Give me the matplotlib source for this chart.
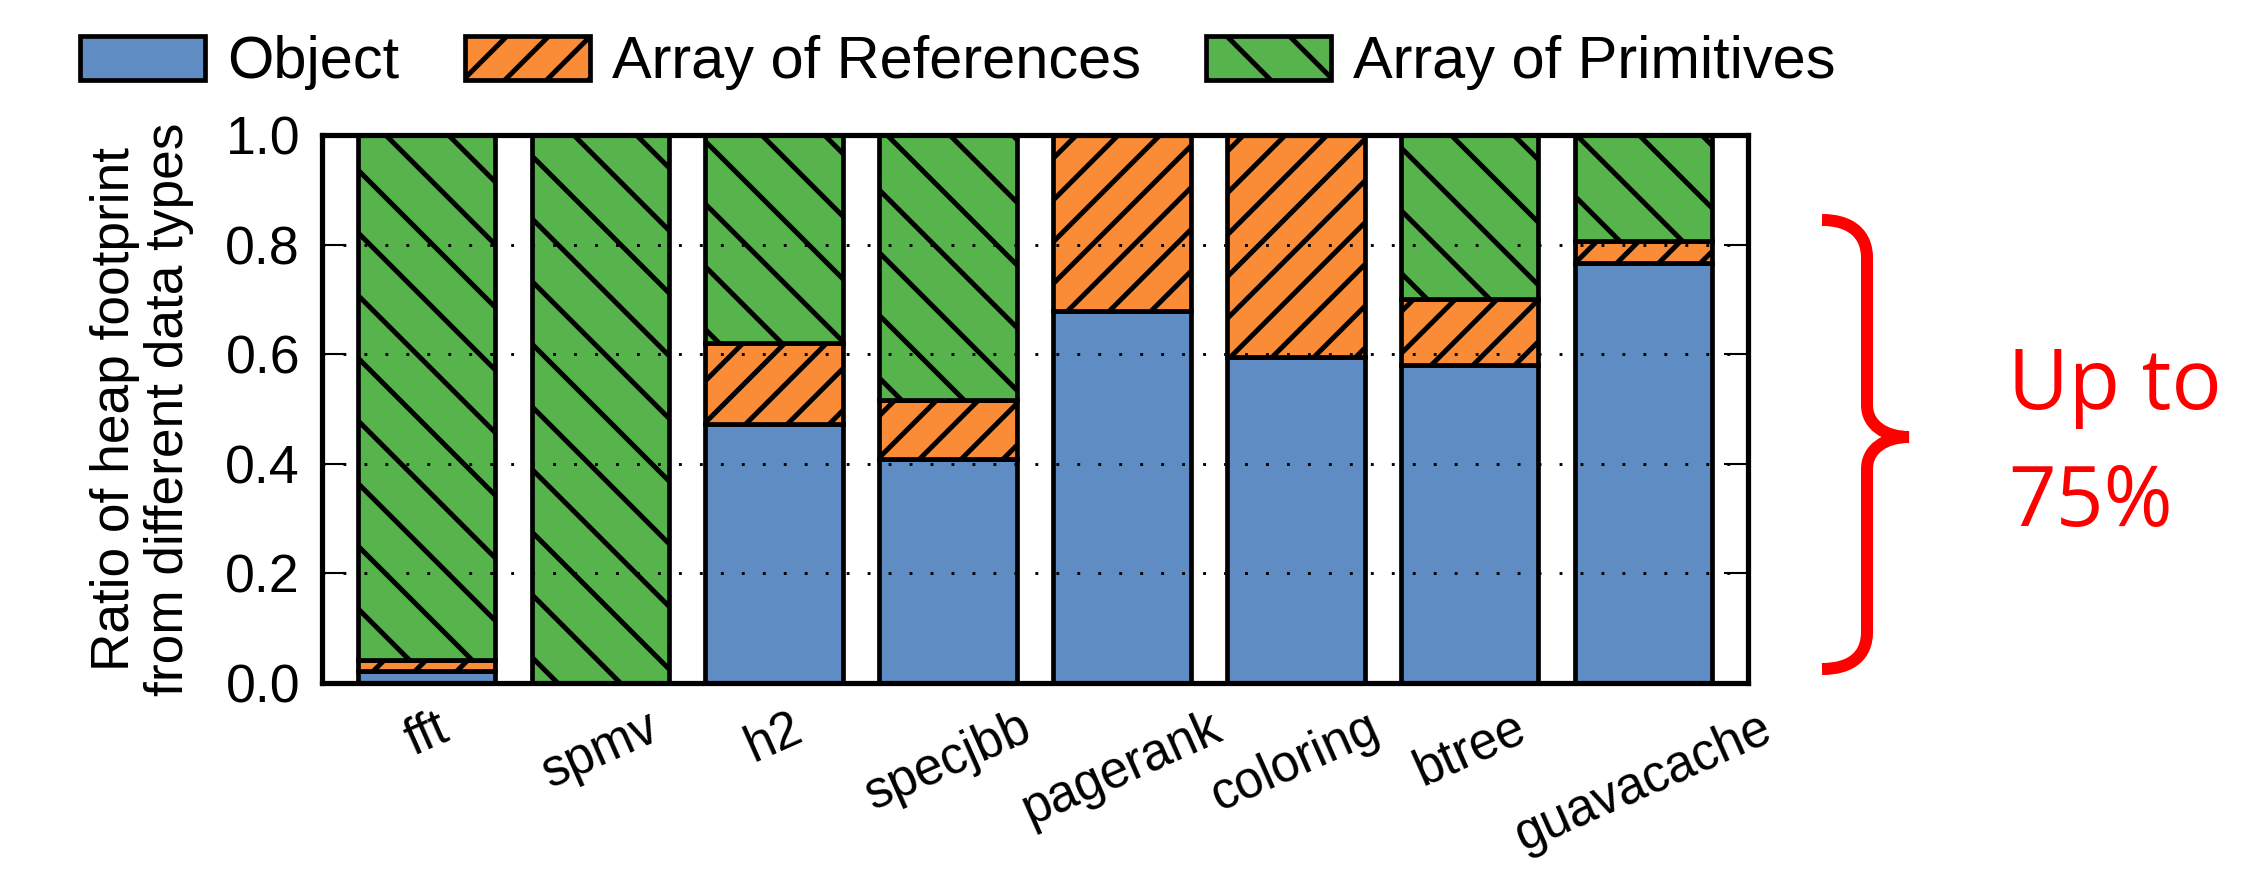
import matplotlib
matplotlib.use("Agg")
import matplotlib.pyplot as plt
from matplotlib.path import Path
from matplotlib.patches import PathPatch
from matplotlib.transforms import Affine2D
import numpy as np

# podaci (ocitani sa slike)
benchmarks = ["fft", "spmv", "h2", "specjbb", "pagerank", "coloring", "btree", "guavacache"]
obj_ratio = [0.022, 0.0, 0.472, 0.409, 0.679, 0.594, 0.581, 0.766]
ref_ratio = [0.020, 0.0, 0.148, 0.107, 0.321, 0.406, 0.120, 0.040]
prim_ratio = [0.958, 1.0, 0.380, 0.484, 0.0, 0.0, 0.299, 0.194]
series_names = ["Object", "Array of References", "Array of Primitives"]

W, H = 2256, 876
DPI = 376

plt.rcParams["font.family"] = ["Liberation Sans", "DejaVu Sans"]
plt.rcParams["hatch.linewidth"] = 0.95
plt.rcParams["hatch.color"] = "black"

fig = plt.figure(figsize=(W / DPI, H / DPI), dpi=DPI)
ax = fig.add_axes([322 / W, 1 - 683 / H, (1748 - 322) / W, (683 - 135) / H])

x = np.arange(len(benchmarks))
bw = 0.79
blue, orange, green = "#608cc4", "#fa8c37", "#57b44c"

obj = np.array(obj_ratio)
ref = np.array(ref_ratio)
prim = np.array(prim_ratio)

ax.bar(x, obj, bw, color=blue, edgecolor="black", linewidth=0.9, label=series_names[0])
ax.bar(x, ref, bw, bottom=obj, color=orange, edgecolor="black", linewidth=0.9,
       hatch="///", label=series_names[1])
ax.bar(x, prim, bw, bottom=obj + ref, color=green, edgecolor="black", linewidth=0.9,
       hatch="\\\\", label=series_names[2])

ax.set_xlim(-0.6, 7.6)
ax.set_ylim(0, 1.0)
ax.set_yticks([0.0, 0.2, 0.4, 0.6, 0.8, 1.0])
ax.set_yticklabels(["0.0", "0.2", "0.4", "0.6", "0.8", "1.0"])
ax.set_xticks(x)
ax.set_xticklabels(benchmarks, rotation=24, ha="center")
ax.tick_params(axis="y", direction="in", length=4.6, width=0.4, right=True,
               labelsize=10.3, pad=4.2)
ax.tick_params(axis="x", length=0, labelsize=9.8, pad=4.0)
for sp in ax.spines.values():
    sp.set_linewidth(1.0)

# tackaste linije mreze iznad stubaca
ax.set_axisbelow(False)
ax.yaxis.grid(True, color="black", linewidth=0.55, linestyle=(0, (1, 6.3)))
ax.xaxis.grid(False)

fig.text(142 / W, 1 - 409 / H, "Ratio of heap footprint\nfrom different data types",
         rotation=90, ha="center", va="center", multialignment="center",
         fontsize=10.2, linespacing=1.12)

handles, labels = ax.get_legend_handles_labels()
fig.legend(handles, labels, loc="center", bbox_to_anchor=(958 / W, 1 - 63 / H),
           ncol=3, frameon=False, fontsize=11.4, handlelength=2.1, handleheight=0.75,
           handletextpad=0.37, columnspacing=1.1, borderpad=0, borderaxespad=0)

# crvena viticasta zagrada i tekst
px2fig = Affine2D().scale(1 / W, -1 / H).translate(0, 1) + fig.transFigure
verts = [(1822, 220), (1852, 220), (1867, 235), (1867, 258),
         (1867, 405),
         (1867, 425), (1885, 437), (1909, 437),
         (1885, 437), (1867, 449), (1867, 469),
         (1867, 632),
         (1867, 655), (1852, 669), (1822, 669)]
codes = [Path.MOVETO, Path.CURVE4, Path.CURVE4, Path.CURVE4,
         Path.LINETO,
         Path.CURVE4, Path.CURVE4, Path.CURVE4,
         Path.CURVE4, Path.CURVE4, Path.CURVE4,
         Path.LINETO,
         Path.CURVE4, Path.CURVE4, Path.CURVE4]
brace = PathPatch(Path(verts, codes), transform=px2fig, facecolor="none",
                  edgecolor="#ff0000", linewidth=2.3, capstyle="butt")
fig.add_artist(brace)

fig.text(2008 / W, 1 - 409 / H, "Up to", color="#ff0000", fontsize=16,
         family=["Open Sans", "DejaVu Sans"], ha="left", va="baseline")
fig.text(2008 / W, 1 - 526 / H, "75%", color="#ff0000", fontsize=16,
         family=["Open Sans", "DejaVu Sans"], ha="left", va="baseline")

fig.savefig("out.png", dpi=DPI)
plt.close()
